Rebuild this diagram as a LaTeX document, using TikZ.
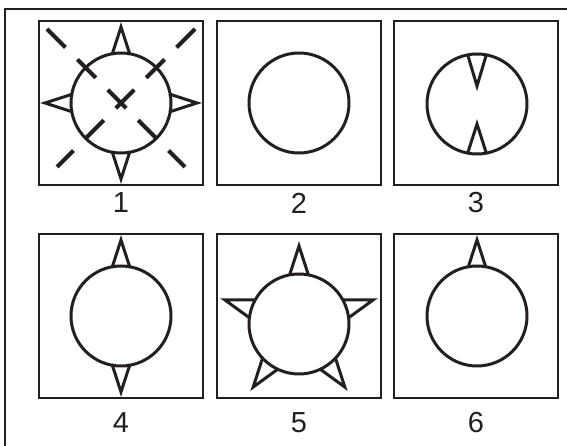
\documentclass[tikz,border=0pt]{standalone}
\usepackage{fontspec}
\setmainfont{Liberation Sans}
\usepackage{tikz}
\usetikzlibrary{positioning}
\definecolor{ink}{HTML}{231F20}

\begin{document}
\begin{tikzpicture}[x=1pt, y=1pt,
  frame/.style={draw=ink, line width=2.5pt},
  panel/.style={rectangle, draw=ink, line width=2pt, minimum size=164pt,
                inner sep=0pt},
  disc/.style={circle, draw=ink, fill=white, line width=3pt,
               minimum size=100pt, inner sep=0pt},
  spike/.style={draw=ink, line width=3pt, line join=miter},
  cross/.style={draw=ink, line width=4pt, dash pattern=on 26pt off 17pt},
  lbl/.style={font=\fontsize{29}{31}\selectfont, text=ink, inner sep=0pt},
]
  \useasboundingbox (0,0) rectangle (567,446);
  \draw[frame] (5,0) -- (5,437) -- (567,437);

  % top row
  \node[panel] (p1) at (121,343) {};
  \node[panel] (p2) at (299,343) {};
  \node[panel] (p3) at (476,343) {};
  \node[lbl] (l1) at (121,243) {1};
  \node[lbl] (l2) at (299,243) {2};
  \node[lbl] (l3) at (476,243) {3};

  \node[disc] (d1) at (121,343) {};
  \begin{scope}[shift={(d1.center)}]
    \draw[spike] (100.6:49) -- (90:76) -- (79.4:49);
    \draw[spike] (190.6:49) -- (180:76) -- (169.4:49);
    \draw[spike] (280.6:49) -- (270:76) -- (259.4:49);
    \draw[spike] (10.6:49) -- (0:76) -- (-10.6:49);
    \draw[cross] (-74,74) -- (64,-64);
    \draw[cross] (74,74) -- (-64,-64);
  \end{scope}

  \node[disc] (d2) at (299,343) {};

  \node[disc] (d3) at (477,342) {};
  \begin{scope}[shift={(d3.center)}]
    \draw[spike] (100.6:49) -- (0,18) -- (79.4:49);
    \draw[spike] (259.4:49) -- (0,-20) -- (280.6:49);
  \end{scope}

  % bottom row
  \node[panel] (p4) at (121,130) {};
  \node[panel] (p5) at (299,130) {};
  \node[panel] (p6) at (476,130) {};
  \node[lbl] (l4) at (121,23) {4};
  \node[lbl] (l5) at (299,23) {5};
  \node[lbl] (l6) at (476,23) {6};

  \node[disc] (d4) at (121,130) {};
  \begin{scope}[shift={(d4.center)}]
    \draw[spike] (100.6:49) -- (90:76) -- (79.4:49);
    \draw[spike] (280.6:49) -- (270:76) -- (259.4:49);
  \end{scope}

  \begin{scope}[shift={(299,122)}]
    \draw[spike] (90:78) -- (126:29.8) -- (162:78) -- (198:29.8)
      -- (234:78) -- (270:29.8) -- (306:78) -- (342:29.8)
      -- (18:78) -- (54:29.8) -- cycle;
  \end{scope}
  \node[disc] (d5) at (299,122) {};

  \node[disc] (d6) at (477,130) {};
  \begin{scope}[shift={(d6.center)}]
    \draw[spike] (100.6:49) -- (90:76) -- (79.4:49);
  \end{scope}
\end{tikzpicture}
\end{document}
